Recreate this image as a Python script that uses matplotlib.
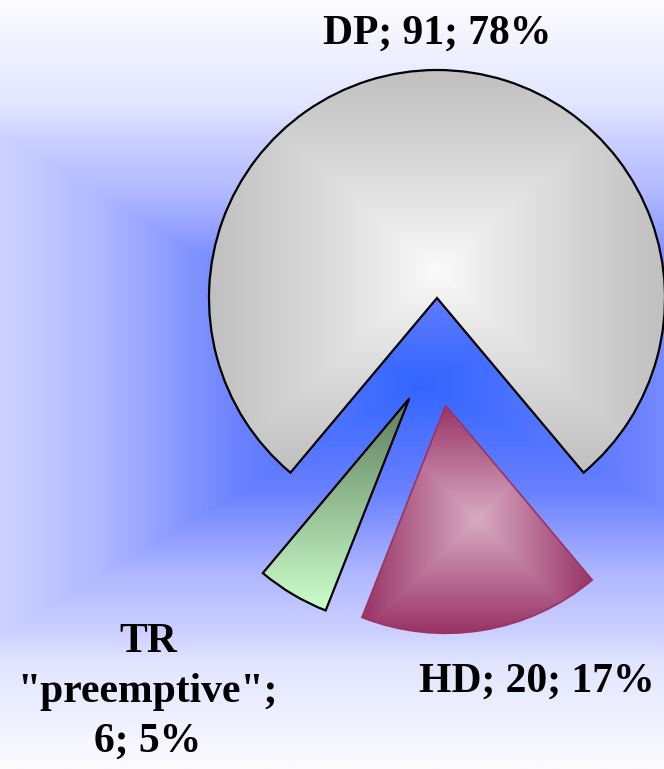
import numpy as np
import matplotlib.pyplot as plt
from matplotlib.colors import LinearSegmentedColormap

# data
names = ['DP', 'HD', 'TR\n"preemptive"']
counts = [91, 20, 6]
percents = [78, 17, 5]

W, H = 664, 769
plt.rcParams['font.family'] = ['Liberation Serif', 'DejaVu Serif']

fig = plt.figure(figsize=(W / 100, H / 100), dpi=100)
ax = fig.add_axes([0, 0, 1, 1])


def box_t(x0, x1, y0, y1, cx, cy, hw, hh, n=400, tmax=1.0, hw_right=None):
    # "from centre" rectangle gradient parameter, 0 in the middle, 1 at the border
    X, Y = np.meshgrid(np.linspace(x0, x1, n), np.linspace(y0, y1, n))
    hx = np.where(X > cx, hw_right or hw, hw)
    t = np.maximum(np.abs(X - cx) / hx, np.abs(Y - cy) / hh)
    return np.clip(t, 0, tmax)


# background
bg_cmap = LinearSegmentedColormap.from_list('bg', [
    (0.0, '#3366FF'), (0.38 / 1.35, '#6A80FF'), (0.68 / 1.35, '#B0B8FF'),
    (0.89 / 1.35, '#CDD1FF'), (1.0 / 1.35, '#E2E5FF'), (1.0, '#FAFAFF')])
t = box_t(0, W, 0, H, 420, H - 385, 470, 280, tmax=1.35, hw_right=560)
ax.imshow(t, cmap=bg_cmap, vmin=0, vmax=1.35, origin='lower',
          extent=(0, W, 0, H), zorder=0, interpolation='bilinear')

wedges, _ = ax.pie(counts, startangle=230, counterclock=False,
                   center=(437, H - 352), radius=228,
                   explode=[54, 54, 54],
                   wedgeprops=dict(facecolor='none', zorder=3))

styles = [
    dict(cmap=LinearSegmentedColormap.from_list('dp', ['#FCFCFC', '#C0C0C0']),
         edge='black', lw=1.6, kind='box', power=0.85),
    dict(cmap=LinearSegmentedColormap.from_list('hd', ['#D8ABC2', '#993366']),
         edge='#993366', lw=1.2, kind='box', power=1.0),
    dict(cmap=LinearSegmentedColormap.from_list('tr', ['#CCFFCC', '#5C7C5C']),
         edge='black', lw=1.6, kind='vertical', power=1.0),
]

for w, st in zip(wedges, styles):
    bb = w.get_path().get_extents()
    x0, y0, x1, y1 = bb.x0, bb.y0, bb.x1, bb.y1
    if st['kind'] == 'box':
        g = box_t(x0, x1, y0, y1, (x0 + x1) / 2, (y0 + y1) / 2,
                  (x1 - x0) / 2, (y1 - y0) / 2) ** st['power']
    else:
        g = np.tile(np.linspace(0, 1, 400)[:, None], (1, 20))
    im = ax.imshow(g, cmap=st['cmap'], vmin=0, vmax=1, origin='lower',
                   extent=(x0, x1, y0, y1), zorder=2, interpolation='bilinear')
    im.set_clip_path(w)
    w.set_edgecolor(st['edge'])
    w.set_linewidth(st['lw'])

label_style = dict(fontsize=30, fontweight='bold', color='black',
                   ha='center', zorder=5)
ax.text(437, H - 44, f'{names[0]}; {counts[0]}; {percents[0]}%',
        va='baseline', **label_style)
ax.text(537, H - 692, f'{names[1]}; {counts[1]}; {percents[1]}%',
        va='baseline', **label_style)
ax.text(148, H - 692, f'{names[2]};\n{counts[2]}; {percents[2]}%',
        va='center', linespacing=1.4, **label_style)

ax.set_xlim(0, W)
ax.set_ylim(0, H)
ax.set_aspect('equal')
ax.axis('off')

plt.savefig('out.png', dpi=100)
